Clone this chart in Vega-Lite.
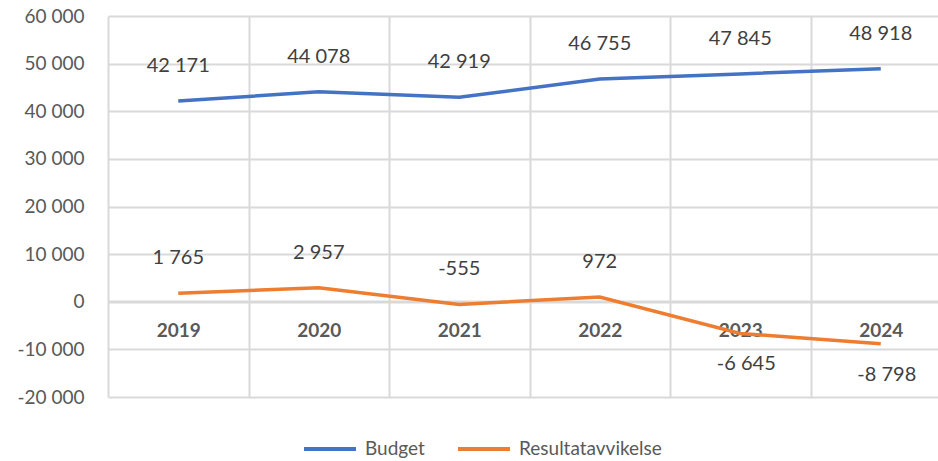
{
  "$schema": "https://vega.github.io/schema/vega-lite/v6.json",
  "width": 830,
  "height": 381,
  "autosize": {"type": "none"},
  "padding": {"left": 108, "top": 16, "right": 0, "bottom": 64},
  "config": {
    "view": {"stroke": null},
    "font": "Lato",
    "locale": {"number": {"decimal": ",", "thousands": " ", "grouping": [3], "currency": ["", " kr"], "minus": "-"}}
  },
  "data": {"values": [
    {"year": "2019", "serie": "Budget", "value": 42171},
    {"year": "2020", "serie": "Budget", "value": 44078},
    {"year": "2021", "serie": "Budget", "value": 42919},
    {"year": "2022", "serie": "Budget", "value": 46755},
    {"year": "2023", "serie": "Budget", "value": 47845},
    {"year": "2024", "serie": "Budget", "value": 48918},
    {"year": "2019", "serie": "Resultatavvikelse", "value": 1765},
    {"year": "2020", "serie": "Resultatavvikelse", "value": 2957},
    {"year": "2021", "serie": "Resultatavvikelse", "value": -555},
    {"year": "2022", "serie": "Resultatavvikelse", "value": 972},
    {"year": "2023", "serie": "Resultatavvikelse", "value": -6645},
    {"year": "2024", "serie": "Resultatavvikelse", "value": -8798}
  ]},
  "encoding": {
    "x": {
      "field": "year", "type": "ordinal",
      "scale": {"range": [0, 843], "paddingInner": 0, "paddingOuter": 0},
      "axis": {
        "title": null, "offset": -96, "tickBand": "extent",
        "domainColor": "#d9d9d9", "domainWidth": 2,
        "ticks": false, "grid": true, "gridColor": "#d9d9d9", "gridWidth": 2,
        "labelAngle": 0, "labelFontSize": 19, "labelFontWeight": "bold", "labelColor": "#595959",
        "labelPadding": 20
      }
    },
    "y": {
      "field": "value", "type": "quantitative",
      "scale": {"domain": [-20000, 60000], "nice": false},
      "axis": {
        "title": null, "values": [-20000, -10000, 0, 10000, 20000, 30000, 40000, 50000, 60000],
        "format": ",d", "domain": false, "ticks": false,
        "grid": true, "gridColor": "#d9d9d9", "gridWidth": 2,
        "labelFontSize": 19, "labelColor": "#595959", "labelPadding": 24
      }
    }
  },
  "layer": [
    {
      "mark": {"type": "line", "strokeWidth": 3.5},
      "encoding": {
        "color": {
          "field": "serie", "type": "nominal",
          "scale": {"domain": ["Budget", "Resultatavvikelse"], "range": ["#4472C4", "#ED7D31"]},
          "legend": {
            "title": null, "orient": "none", "direction": "horizontal",
            "legendX": 194, "legendY": 405,
            "symbolType": "stroke", "symbolSize": 2700, "symbolStrokeWidth": 4,
            "labelFontSize": 19, "labelColor": "#595959", "columnPadding": 25, "labelOffset": 7
          }
        }
      }
    },
    {
      "transform": [{"filter": "datum.value > -1000"}],
      "mark": {"type": "text", "dy": -35, "fontSize": 20, "color": "#404040"},
      "encoding": {"text": {"field": "value", "type": "quantitative", "format": ",d"}}
    },
    {
      "transform": [{"filter": "datum.value <= -1000"}],
      "mark": {"type": "text", "dy": 31, "dx": 6, "fontSize": 20, "color": "#404040"},
      "encoding": {"text": {"field": "value", "type": "quantitative", "format": ",d"}}
    }
  ]
}
